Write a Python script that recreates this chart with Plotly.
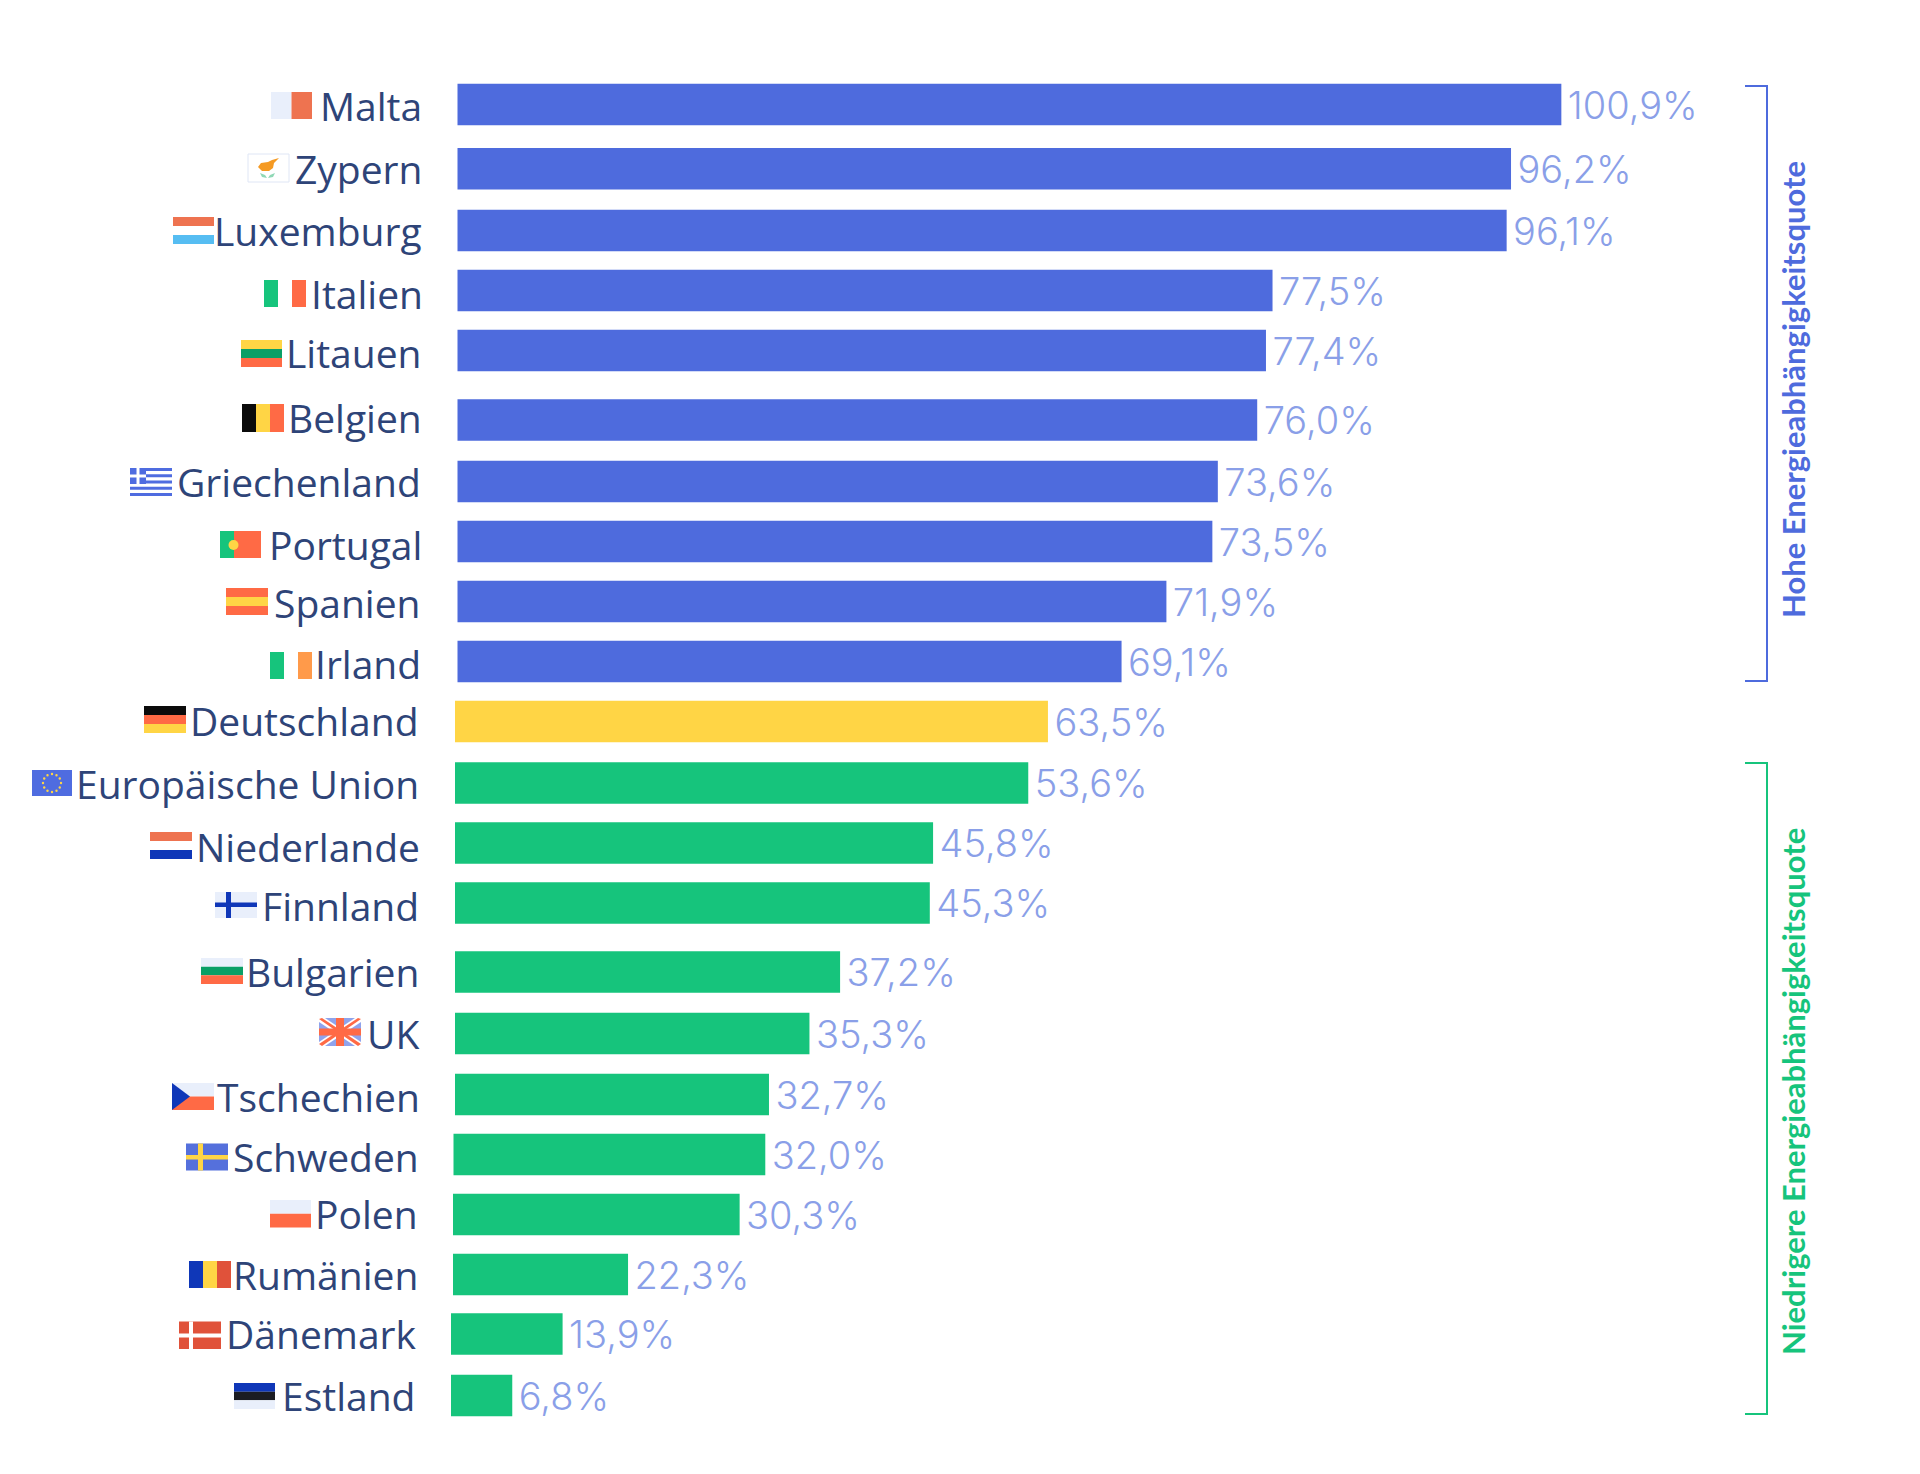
import math
import plotly.graph_objects as go

WIDTH = 1920
HEIGHT = 1474

countries = ["Malta", "Zypern", "Luxemburg", "Italien", "Litauen", "Belgien", "Griechenland",
             "Portugal", "Spanien", "Irland", "Deutschland", "Europäische Union", "Niederlande",
             "Finnland", "Bulgarien", "UK", "Tschechien", "Schweden", "Polen", "Rumänien",
             "Dänemark", "Estland"]
value_labels = ["100,9%", "96,2%", "96,1%", "77,5%", "77,4%", "76,0%", "73,6%", "73,5%", "71,9%",
                "69,1%", "63,5%", "53,6%", "45,8%", "45,3%", "37,2%", "35,3%", "32,7%", "32,0%",
                "30,3%", "22,3%", "13,9%", "6,8%"]
# bar lengths as drawn: the reference does not draw its bars in proportion to the printed labels,
# so these are read off the picture on the scale of the top bar
bar_lengths = [100.9, 96.3, 95.9, 74.5, 73.9, 73.1, 69.5, 69.0, 64.8, 60.7, 54.2, 52.4, 43.7,
               43.4, 35.2, 32.4, 28.7, 28.5, 26.2, 16.0, 10.2, 5.6]
groups = ["hoch"] * 10 + ["de"] + ["niedrig"] * 11

GROUP_COLORS = {"hoch": "#4e6bdd", "de": "#ffd545", "niedrig": "#16c47c"}
INK = "#2e4478"
VALUE_INK = "#8a9fe8"
LIGHT = "#e9effb"
RED = "#ff6a45"
ORANGE = "#ee7350"
GREEN = "#16c47c"
DARKGREEN = "#0a9f66"
YELLOW = "#ffd545"
NAVY = "#0f37b8"
BLUE = "#4f6ce0"
BRICK = "#e0523a"

PX_PER_UNIT = 10.94
ZERO_PX = 455

# layout of the rows, in page pixels
row_center = [104.5, 168.7, 230.5, 290.5, 350.5, 420, 481.5, 541.5, 601.5, 661.5, 721.5, 783, 843,
              903, 972, 1033.5, 1094.5, 1154.5, 1214.5, 1274.5, 1334, 1395.5]
row_left = [457.5] * 10 + [455] * 7 + [453.5, 453, 453, 451, 451]
label_right = [424, 424, 424, 425, 424, 424, 423, 424, 423, 423, 421, 421, 422, 421, 421, 421,
               422, 421, 420, 420, 419, 417]
label_mid = [105.5, 168, 230.5, 294, 353, 418, 482, 545, 602, 664, 720, 783, 846, 905, 971, 1033,
             1096, 1156, 1213, 1274, 1333, 1395]


def fx(p):
    return p / WIDTH


def fy(p):
    return 1 - p / HEIGHT


def rect(x0, y0, x1, y1, color):
    return dict(type="rect", xref="paper", yref="paper", x0=fx(x0), x1=fx(x1), y0=fy(y0), y1=fy(y1),
                fillcolor=color, line_width=0, layer="above")


def circle(cx, cy, r, color):
    return dict(type="circle", xref="paper", yref="paper", x0=fx(cx - r), x1=fx(cx + r),
                y0=fy(cy - r), y1=fy(cy + r), fillcolor=color, line_width=0, layer="above")


def poly(points, color):
    path = "M " + " L ".join(f"{fx(x)},{fy(y)}" for x, y in points) + " Z"
    return dict(type="path", xref="paper", yref="paper", path=path, fillcolor=color,
                line_width=0, layer="above")


def h_stripes(x0, y0, x1, y1, colors):
    step = (y1 - y0) / len(colors)
    return [rect(x0, y0 + i * step, x1, y0 + (i + 1) * step, c) for i, c in enumerate(colors) if c]


def v_stripes(x0, y0, x1, y1, colors):
    step = (x1 - x0) / len(colors)
    return [rect(x0 + i * step, y0, x0 + (i + 1) * step, y1, c) for i, c in enumerate(colors) if c]


def make_flags():
    s = []
    s += v_stripes(271, 92, 312, 119, [LIGHT, ORANGE])
    # Zypern
    s.append(dict(type="rect", xref="paper", yref="paper", x0=fx(248), x1=fx(289), y0=fy(154), y1=fy(182),
                  fillcolor="white", line=dict(color="#dfe6f5", width=1), layer="above"))
    s.append(poly([(258, 167), (261, 163), (268, 162), (272, 160), (279, 158), (274, 163), (273, 168),
                   (269, 171), (262, 171)], "#f59a23"))
    s.append(poly([(260, 173), (265, 175), (267, 178), (262, 177)], "#8fd8b5"))
    s.append(poly([(275, 173), (270, 175), (268, 178), (273, 177)], "#8fd8b5"))
    s += h_stripes(173, 217, 214, 244, [ORANGE, None, "#56bdf2"])
    s += v_stripes(264, 280, 306, 307, [GREEN, None, RED])
    s += h_stripes(241, 340, 282, 367, [YELLOW, DARKGREEN, RED])
    s += v_stripes(242, 404, 284, 432, ["#0b0b0b", YELLOW, RED])
    # Griechenland
    s += h_stripes(130, 468, 172, 496, [BLUE, None, BLUE, None, BLUE, None, BLUE, None, BLUE])
    s.append(rect(130, 468, 146, 484, BLUE))
    s.append(rect(136.5, 468, 139.5, 484, "white"))
    s.append(rect(130, 474.5, 146, 477.5, "white"))
    # Portugal
    s.append(rect(220, 531, 234, 558, GREEN))
    s.append(rect(234, 531, 261, 558, RED))
    s.append(circle(233.5, 545, 5, YELLOW))
    s += h_stripes(226, 588, 268, 615, [RED, YELLOW, RED])
    s += v_stripes(270, 652, 312, 679, [GREEN, None, "#ff9a4a"])
    s += h_stripes(144, 706, 186, 733, ["#0b0b0b", RED, YELLOW])
    # EU
    s.append(rect(32, 770, 72, 796, BLUE))
    for i in range(12):
        a = i * math.pi / 6
        s.append(circle(52 + 9 * math.cos(a), 783 + 9 * math.sin(a), 1.2, YELLOW))
    s += h_stripes(150, 832, 192, 859, [ORANGE, None, NAVY])
    # Finnland
    s.append(rect(215, 892, 257, 918, LIGHT))
    s.append(rect(226, 892, 231, 918, NAVY))
    s.append(rect(215, 902.5, 257, 907, NAVY))
    s += h_stripes(201, 958, 243, 984, [LIGHT, DARKGREEN, RED])
    # UK
    s.append(rect(319, 1018, 361, 1046, "#8fa3ec"))
    s.append(poly([(319, 1018), (325, 1018), (361, 1042), (361, 1046), (355, 1046), (319, 1022)], "white"))
    s.append(poly([(361, 1018), (355, 1018), (319, 1042), (319, 1046), (325, 1046), (361, 1022)], "white"))
    s.append(poly([(319, 1019), (322, 1018), (361, 1044), (358, 1046)], RED))
    s.append(poly([(361, 1019), (358, 1018), (319, 1044), (322, 1046)], RED))
    s.append(rect(336, 1018, 344, 1046, RED))
    s.append(rect(319, 1028.5, 361, 1035.5, RED))
    # Tschechien
    s += h_stripes(172, 1083, 214, 1110, [LIGHT, RED])
    s.append(poly([(172, 1083), (190, 1096.5), (172, 1110)], NAVY))
    # Schweden
    s.append(rect(186, 1143.5, 228, 1170.5, "#5570dc"))
    s.append(rect(198, 1143.5, 203, 1170.5, YELLOW))
    s.append(rect(186, 1155, 228, 1159.5, YELLOW))
    s += h_stripes(270, 1200, 311, 1227.5, [LIGHT, RED])
    s += v_stripes(189, 1261, 231, 1288, [NAVY, YELLOW, BRICK])
    # Dänemark
    s.append(rect(179, 1321.5, 221, 1349, BRICK))
    s.append(rect(189, 1321.5, 193, 1349, "white"))
    s.append(rect(179, 1333.5, 221, 1337.5, "white"))
    s += h_stripes(234, 1383, 275, 1409, [NAVY, "#1b1c22", LIGHT])
    return s


def make_brackets():
    s = []
    for top, bottom, color in [(86, 681, GROUP_COLORS["hoch"]), (763, 1414, GROUP_COLORS["niedrig"])]:
        path = f"M {fx(1745)},{fy(top)} L {fx(1767)},{fy(top)} L {fx(1767)},{fy(bottom)} L {fx(1745)},{fy(bottom)}"
        s.append(dict(type="path", xref="paper", yref="paper", path=path, line=dict(color=color, width=2)))
    return s


annotations = [dict(text=name, xref="paper", yref="paper", x=fx(r), y=fy(m), xanchor="right", yanchor="middle",
                    showarrow=False, font=dict(family="Open Sans", size=39, color=INK))
               for name, r, m in zip(countries, label_right, label_mid)]
annotations.append(dict(text="<b>Hohe Energieabhängigkeitsquote</b>", xref="paper", yref="paper", x=fx(1793), y=fy(390),
                        xanchor="center", yanchor="middle", textangle=-90, showarrow=False,
                        font=dict(family="Lato", size=31, color=GROUP_COLORS["hoch"])))
annotations.append(dict(text="<b>Niedrigere Energieabhängigkeitsquote</b>", xref="paper", yref="paper", x=fx(1793), y=fy(1092),
                        xanchor="center", yanchor="middle", textangle=-90, showarrow=False,
                        font=dict(family="Lato", size=31, color=GROUP_COLORS["niedrig"])))

fig = go.Figure()
fig.add_trace(go.Bar(
    x=bar_lengths,
    y=row_center,
    base=[(left - ZERO_PX) / PX_PER_UNIT for left in row_left],
    orientation="h",
    width=41.5,
    marker=dict(color=[GROUP_COLORS[g] for g in groups], line_width=0),
    text=["\u200a" + t for t in value_labels],
    textposition="outside",
    cliponaxis=False,
    constraintext="none",
    textfont=dict(family="Inter", size=38, color=VALUE_INK, weight=300),
    hoverinfo="skip",
))
fig.update_layout(
    width=WIDTH,
    height=HEIGHT,
    margin=dict(l=0, r=0, t=0, b=0),
    paper_bgcolor="white",
    plot_bgcolor="white",
    showlegend=False,
    xaxis=dict(range=[-ZERO_PX / PX_PER_UNIT, (WIDTH - ZERO_PX) / PX_PER_UNIT], visible=False),
    yaxis=dict(range=[HEIGHT, 0], visible=False),
    shapes=make_flags() + make_brackets(),
    annotations=annotations,
)
# the browser's default body margin would push the whole chart 8px off
fig.write_html("out.html", config={"displayModeBar": False},
               post_script="document.body.style.margin = '0';")
